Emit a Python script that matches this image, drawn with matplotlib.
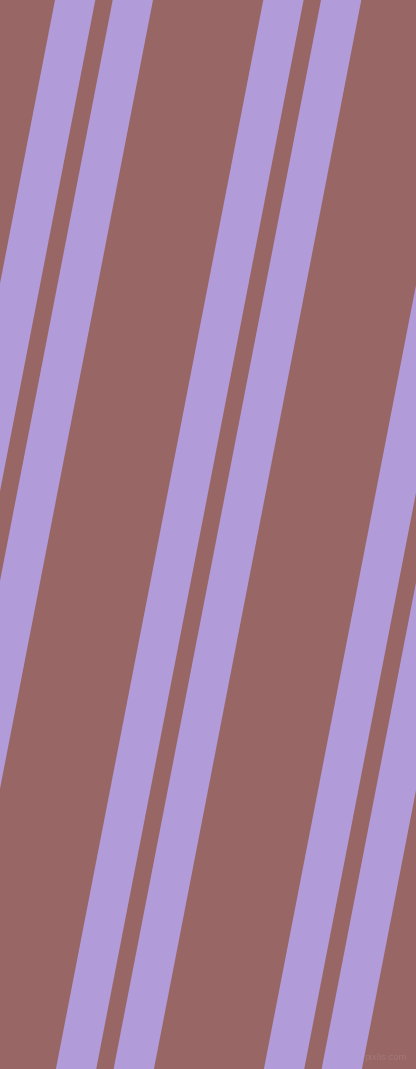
import matplotlib.pyplot as plt
import numpy as np

# image size in pixels
W, H = 416, 1069

# left edge of each stripe where it meets the top edge (px)
stripe_starts = [55, 112.7, 263.3, 321, 471.3, 529]
stripe_width = 40.3      # horizontal width of a stripe
drift = 0.194            # sideways shift per pixel down (towards the left)

bg_color = '#996666'
stripe_color = '#b19cd9'

fig = plt.figure(figsize=(W / 100, H / 100), dpi=100)
fig.patch.set_facecolor(bg_color)
ax = fig.add_axes([0, 0, 1, 1])
ax.set_facecolor(bg_color)
ax.set_xlim(0, W)
ax.set_ylim(H, 0)
ax.axis('off')

# draw each stripe as a slanted band
for x0 in stripe_starts:
    ys = np.array([0, 0, H, H])
    xs = np.array([x0, x0 + stripe_width, x0 + stripe_width - drift * H, x0 - drift * H])
    ax.fill(xs, ys, color=stripe_color, linewidth=0)

# small watermark bottom right
ax.text(407, 1058, 'pixlis.com', color='#a07878', fontsize=6,
        ha='right', va='center')

fig.savefig('out.png', dpi=100, facecolor=bg_color)
